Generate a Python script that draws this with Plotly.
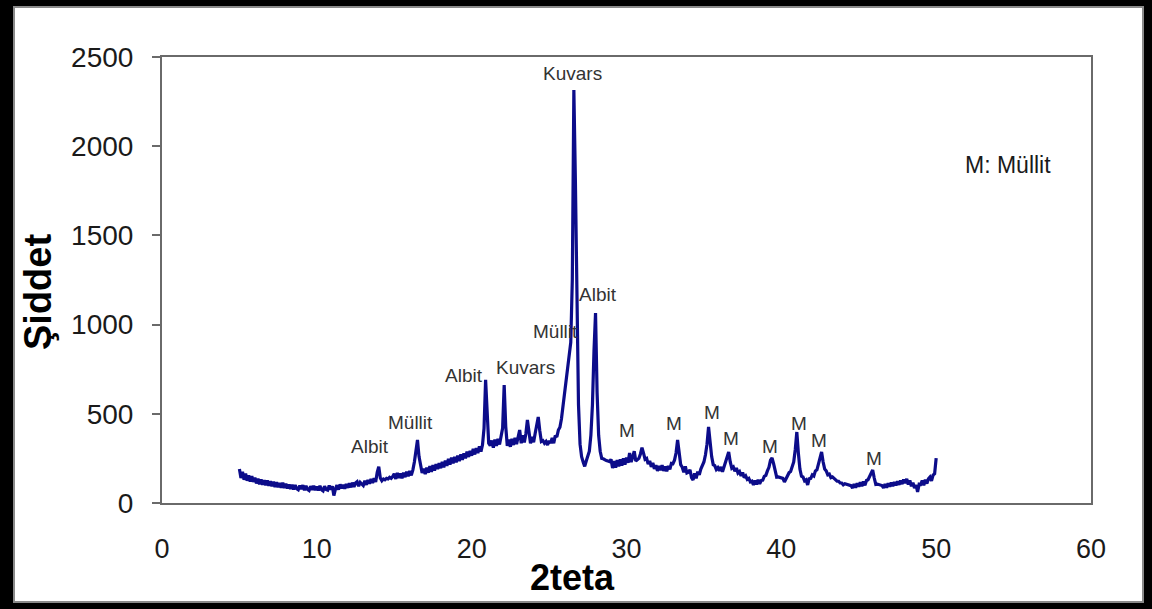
import numpy as np
import plotly.graph_objects as go

# Diffraction scan: 2-theta from 5 to 50 degrees, 0.1 degree step
scan_start = 5.0
scan_step = 0.1

# Measured intensity, one row per degree (x.0 ... x.9)
intensity_rows = [
    [190, 140, 175, 130, 165, 125, 155, 120, 150, 118],   # 5
    [142, 110, 136, 105, 132, 102, 128, 100, 126, 96],    # 6
    [122, 94, 120, 90, 116, 88, 112, 86, 114, 84],        # 7
    [108, 82, 104, 78, 102, 76, 100, 80, 74, 98],         # 8
    [78, 100, 72, 96, 76, 70, 94, 74, 96, 72],            # 9
    [92, 70, 96, 74, 68, 94, 76, 72, 98, 75],             # 10
    [94, 42, 78, 100, 75, 104, 82, 102, 80, 106],         # 11
    [85, 110, 88, 114, 90, 112, 119, 94, 116, 108],       # 12
    [98, 124, 102, 129, 108, 134, 112, 139, 118, 172],    # 13
    [204, 140, 125, 135, 130, 138, 135, 144, 138, 148],   # 14
    [164, 135, 168, 140, 166, 138, 170, 145, 176, 150],   # 15
    [180, 155, 184, 230, 300, 353, 260, 200, 168, 192],   # 16
    [162, 198, 170, 206, 175, 212, 182, 218, 190, 224],   # 17
    [195, 230, 200, 238, 208, 248, 215, 254, 222, 258],   # 18
    [228, 266, 235, 272, 242, 278, 250, 288, 258, 292],   # 19
    [265, 303, 272, 308, 280, 318, 288, 326, 420, 690],   # 20
    [480, 335, 322, 350, 310, 355, 320, 360, 328, 365],   # 21
    [420, 661, 430, 320, 355, 315, 360, 325, 365, 330],   # 22
    [370, 409, 335, 380, 340, 388, 465, 395, 335, 370],   # 23
    [340, 390, 430, 482, 405, 345, 350, 335, 345, 325],   # 24
    [348, 336, 365, 335, 378, 370, 409, 425, 472, 540],   # 25
    [633, 690, 740, 818, 900, 1250, 2315, 1800, 1150, 550],  # 26
    [330, 260, 230, 205, 235, 260, 290, 380, 550, 850],   # 27
    [1065, 620, 380, 290, 250, 248, 240, 238, 235, 232],  # 28
    [245, 196, 235, 198, 240, 205, 245, 210, 250, 215],   # 29
    [255, 225, 280, 230, 258, 290, 235, 245, 250, 275],   # 30
    [310, 280, 245, 250, 218, 236, 202, 225, 192, 212],   # 31
    [180, 207, 184, 212, 180, 205, 178, 208, 188, 222],   # 32
    [220, 240, 280, 353, 270, 215, 200, 172, 205, 168],   # 33
    [172, 186, 142, 129, 166, 138, 176, 158, 190, 210],   # 34
    [230, 270, 330, 426, 330, 260, 215, 210, 188, 198],   # 35
    [180, 202, 175, 205, 220, 260, 286, 230, 195, 202],   # 36
    [178, 196, 168, 176, 152, 172, 142, 152, 132, 138],   # 37
    [118, 122, 101, 126, 104, 130, 108, 126, 128, 150],   # 38
    [155, 180, 200, 240, 252, 220, 175, 145, 146, 142],   # 39
    [142, 138, 118, 136, 144, 170, 176, 204, 230, 300],   # 40
    [398, 280, 190, 150, 146, 124, 130, 101, 136, 138],   # 41
    [158, 152, 180, 186, 215, 250, 286, 230, 190, 180],   # 42
    [158, 162, 142, 146, 138, 132, 122, 122, 112, 112],   # 43
    [102, 108, 105, 102, 98, 97, 84, 106, 86, 111],       # 44
    [92, 116, 94, 121, 99, 126, 130, 150, 165, 185],      # 45
    [140, 104, 106, 102, 101, 98, 84, 106, 86, 111],      # 46
    [92, 114, 94, 118, 99, 121, 102, 126, 106, 131],      # 47
    [112, 135, 104, 126, 94, 114, 84, 101, 62, 106],      # 48
    [104, 126, 99, 131, 109, 136, 146, 124, 156, 164],    # 49
    [252],                                                # 50
]

# Phase labels: text, 2-theta, intensity
peak_labels = ["Kuvars", "Albit", "Müllit", "Kuvars", "Albit", "Müllit", "Albit",
               "M", "M", "M", "M", "M", "M", "M", "M"]
label_x = [26.54, 28.16, 25.39, 23.5, 19.51, 16.08, 13.43,
           30.03, 33.07, 35.53, 36.75, 39.27, 41.14, 42.43, 45.99]
label_y = [2410, 1166, 964, 757, 717, 454, 319,
           404, 448, 510, 364, 319, 448, 353, 247]

legend_note = "M: Müllit"
x_title = "2teta"
y_title = "Şiddet"

x_ticks = [0, 10, 20, 30, 40, 50, 60]
y_ticks = [0, 500, 1000, 1500, 2000, 2500]

intensity = [v for row in intensity_rows for v in row]
two_theta = np.round(scan_start + scan_step * np.arange(len(intensity)), 2)

W, H = 1152, 609
ML, MR, MT, MB = 162, 61, 57, 106
pw, ph = W - ML - MR, H - MT - MB

def px_to_paper_x(px):
    return (px - ML) / pw

def py_to_paper_y(py):
    return (H - MB - py) / ph

FONT = "Arial, Liberation Sans, sans-serif"

fig = go.Figure()
fig.add_trace(go.Scatter(
    x=two_theta, y=intensity, mode="lines",
    line=dict(color="#0c0c8a", width=3.2),
    hoverinfo="skip", showlegend=False,
))

for txt, lx, ly in zip(peak_labels, label_x, label_y):
    fig.add_annotation(x=lx, y=ly, text=txt, showarrow=False,
                       xanchor="center", yanchor="middle",
                       font=dict(family=FONT, size=19, color="#333333"))

fig.add_annotation(x=54.64, y=1894, text=legend_note, showarrow=False,
                   xanchor="center", yanchor="middle",
                   font=dict(family=FONT, size=23, color="#1a1a1a"))

# axis titles, placed in the margins
fig.add_annotation(xref="paper", yref="paper",
                   x=px_to_paper_x(572), y=py_to_paper_y(577),
                   text=f"<b>{x_title}</b>", showarrow=False,
                   xanchor="center", yanchor="middle",
                   font=dict(family=FONT, size=36, color="black"))
fig.add_annotation(xref="paper", yref="paper",
                   x=px_to_paper_x(38), y=py_to_paper_y(292),
                   text=f"<b>{y_title}</b>", showarrow=False, textangle=-90,
                   xanchor="center", yanchor="middle",
                   font=dict(family=FONT, size=38, color="black"))

# white panel inside the dark frame
fig.add_shape(type="rect", xref="paper", yref="paper", layer="below",
              x0=px_to_paper_x(14), x1=px_to_paper_x(1143),
              y0=py_to_paper_y(602), y1=py_to_paper_y(7),
              fillcolor="white", line=dict(color="#8a8a8a", width=2))

fig.update_layout(
    width=W, height=H,
    margin=dict(l=ML, r=MR, t=MT, b=MB),
    paper_bgcolor="black",
    plot_bgcolor="white",
    showlegend=False,
    xaxis=dict(
        range=[0, 60], tickvals=x_ticks, ticks="", showgrid=False, zeroline=False,
        showline=True, linecolor="#6a6a6a", linewidth=2, mirror=True,
        tickfont=dict(family=FONT, size=27, color="#1a1a1a"),
        ticklabelstandoff=21,
    ),
    yaxis=dict(
        range=[0, 2500], tickvals=y_ticks, ticks="outside", ticklen=8,
        tickcolor="#6a6a6a", tickwidth=2, showgrid=False, zeroline=False,
        showline=True, linecolor="#6a6a6a", linewidth=2, mirror=True,
        tickfont=dict(family=FONT, size=28, color="#1a1a1a"),
        ticklabelstandoff=13,
    ),
)

fig.write_html("out.html")
